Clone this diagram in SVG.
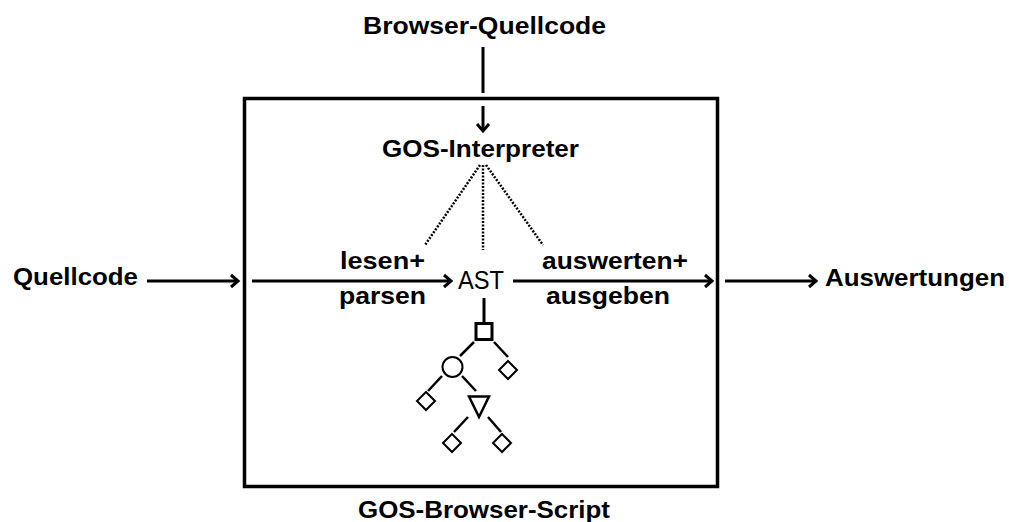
<svg xmlns="http://www.w3.org/2000/svg" width="1009" height="522" viewBox="0 0 1009 522">
<defs>
<style>
text{font-family:"Liberation Sans",Arial,sans-serif;font-size:24px;font-weight:700;fill:#000}
.n{font-weight:400;font-size:25px}
.ln{stroke:#000;stroke-width:3;fill:none}
.tl{stroke:#000;stroke-width:2.5;fill:none}
.dot{stroke:#000;stroke-width:2.5;fill:none;stroke-dasharray:2 1.5}
.sh{stroke:#000;stroke-width:2;fill:#fff}
</style>
<marker id="ah" viewBox="-10 -10 20 20" refX="0" refY="0" markerWidth="20" markerHeight="20" markerUnits="userSpaceOnUse" orient="auto" overflow="visible">
<path d="M-7,-6 L0,0 L-7,6" stroke="#000" stroke-width="3" fill="none" stroke-linejoin="miter"/>
</marker>
</defs>
<rect id="box" x="244.5" y="98.5" width="473" height="388" fill="none" stroke="#000" stroke-width="3.5"/>
<g id="label-browser"><text x="363" y="34" textLength="243" lengthAdjust="spacingAndGlyphs">Browser-Quellcode</text></g>
<g id="label-interpreter"><text x="382" y="157" textLength="197" lengthAdjust="spacingAndGlyphs">GOS-Interpreter</text></g>
<g id="label-quellcode"><text x="13" y="285" textLength="125" lengthAdjust="spacingAndGlyphs">Quellcode</text></g>
<g id="label-lesen"><text x="340" y="269" textLength="85" lengthAdjust="spacingAndGlyphs">lesen+</text><text x="339" y="304" textLength="87" lengthAdjust="spacingAndGlyphs">parsen</text></g>
<g id="node-ast"><text class="n" x="458" y="289" textLength="46" lengthAdjust="spacingAndGlyphs">AST</text></g>
<g id="label-auswerten"><text x="542" y="269" textLength="146" lengthAdjust="spacingAndGlyphs">auswerten+</text><text x="546" y="304" textLength="124" lengthAdjust="spacingAndGlyphs">ausgeben</text></g>
<g id="label-auswertungen"><text x="825" y="286" textLength="180" lengthAdjust="spacingAndGlyphs">Auswertungen</text></g>
<g id="label-script"><text x="358" y="518" textLength="252" lengthAdjust="spacingAndGlyphs">GOS-Browser-Script</text></g>
<g id="connectors">
<line class="ln" x1="483" y1="47" x2="483" y2="93"/>
<line class="ln" x1="483" y1="106" x2="483" y2="131" marker-end="url(#ah)"/>
<line class="ln" x1="147" y1="281" x2="238" y2="281" marker-end="url(#ah)"/>
<line class="ln" x1="252" y1="281" x2="451" y2="281" marker-end="url(#ah)"/>
<line class="ln" x1="513" y1="281" x2="712" y2="281" marker-end="url(#ah)"/>
<line class="ln" x1="725" y1="281" x2="816" y2="281" marker-end="url(#ah)"/>
<line class="dot" x1="480" y1="165" x2="425" y2="245"/>
<line class="dot" x1="483" y1="165" x2="483" y2="250"/>
<line class="dot" x1="486" y1="165" x2="543" y2="245"/>
<line class="ln" x1="484" y1="298" x2="484" y2="322"/>
<line class="tl" x1="474" y1="342" x2="460" y2="356"/>
<line class="tl" x1="494" y1="342" x2="508" y2="357"/>
<line class="tl" x1="442" y1="376" x2="428" y2="391"/>
<line class="tl" x1="462" y1="376" x2="476" y2="391"/>
<line class="tl" x1="468" y1="417" x2="454" y2="432"/>
<line class="tl" x1="488" y1="417" x2="501" y2="432"/>
</g>
<g id="tree">
<rect x="476" y="323.5" width="16" height="16" fill="#fff" stroke="#000" stroke-width="3"/>
<circle class="sh" cx="452.5" cy="367" r="10"/>
<path class="sh" d="M508,361 L517,370 L508,379 L499,370 Z"/>
<path class="sh" d="M426,392 L435,401 L426,410 L417,401 Z"/>
<path d="M469,396.5 L489,396.5 L479,417 Z" fill="#fff" stroke="#000" stroke-width="2.5" stroke-linejoin="miter"/>
<path class="sh" d="M452,434 L461,443 L452,452 L443,443 Z"/>
<path class="sh" d="M502,434 L511,443 L502,452 L493,443 Z"/>
</g>
</svg>
